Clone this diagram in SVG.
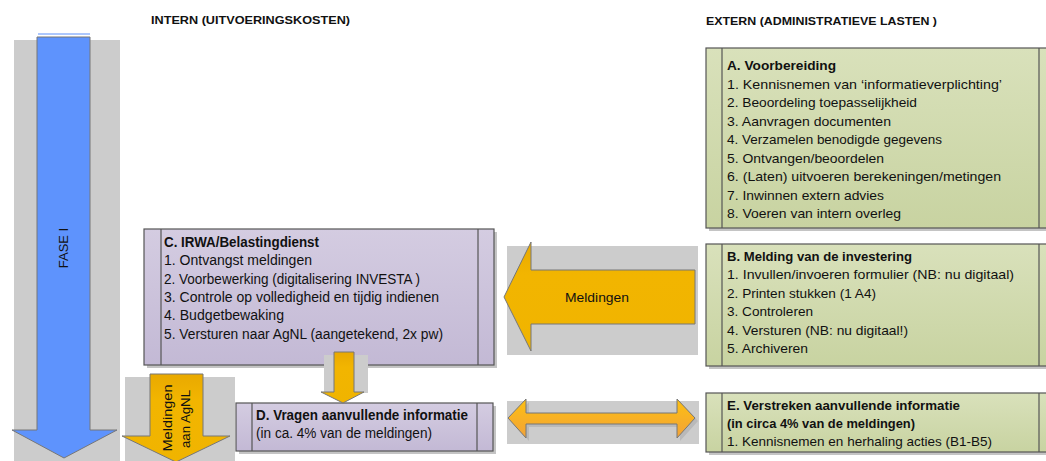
<svg xmlns="http://www.w3.org/2000/svg" width="1046" height="461" viewBox="0 0 1046 461">
<defs>
<linearGradient id="gGreen" x1="0" y1="0" x2="0" y2="1"><stop offset="0" stop-color="#d9e1bb"/><stop offset="1" stop-color="#c8d3a1"/></linearGradient>
<linearGradient id="gLav" x1="0" y1="0" x2="0" y2="1"><stop offset="0" stop-color="#d4cce1"/><stop offset="1" stop-color="#c3b9d5"/></linearGradient>
<linearGradient id="gOr" x1="0" y1="0" x2="0" y2="1"><stop offset="0" stop-color="#e9a900"/><stop offset="0.3" stop-color="#f2b500"/><stop offset="1" stop-color="#f0b400"/></linearGradient>
<linearGradient id="gOr2" x1="0" y1="0" x2="0" y2="1"><stop offset="0" stop-color="#fdc010"/><stop offset="1" stop-color="#f2a23a"/></linearGradient>
</defs>
<style>
.bg{fill:#cccccc}
.box{stroke:#555;stroke-width:1.2}
.sh{fill:#c4c4c4}
.ln{stroke:#555;stroke-width:1.2}
text{font-family:"Liberation Sans",Arial,sans-serif;fill:#111}
.t{font-size:13px}
.b{font-size:13px;font-weight:bold}
.t14{font-size:14px}
.b14{font-size:14px;font-weight:bold}
.h{font-size:11.5px;font-weight:bold}
.arr{stroke:#777;stroke-width:1}
</style>
<g id="headers">
<text class="h" x="151" y="24" textLength="199" lengthAdjust="spacingAndGlyphs">INTERN (UITVOERINGSKOSTEN)</text>
<text class="h" x="706" y="25" textLength="231" lengthAdjust="spacingAndGlyphs">EXTERN (ADMINISTRATIEVE LASTEN )</text>
</g>
<g id="fase">
<rect class="bg" x="14" y="40" width="106" height="421"/>
<line x1="38" y1="34" x2="90" y2="34" stroke="#5b8ffa" stroke-width="1"/>
<polygon class="arr" points="37,37 90,37 90,430 117,430 64,458 12,430 37,430" fill="#5e93fd"/>
<text transform="translate(68,248) rotate(-90)" text-anchor="middle" font-size="13">FASE I</text>
</g>
<g id="boxA">
<rect class="sh" x="709" y="51" width="340" height="180"/>
<rect class="box" x="706" y="48" width="342" height="180" fill="url(#gGreen)"/>
<line class="ln" x1="722" y1="48" x2="722" y2="228"/>
<line class="ln" x1="1039" y1="48" x2="1039" y2="228"/>
<text class="b" x="727" y="70" textLength="109" lengthAdjust="spacingAndGlyphs">A. Voorbereiding</text>
<text class="t" x="727" y="89" textLength="275" lengthAdjust="spacingAndGlyphs">1. Kennisnemen van ‘informatieverplichting’</text>
<text class="t" x="727" y="107" textLength="190" lengthAdjust="spacingAndGlyphs">2. Beoordeling toepasselijkheid</text>
<text class="t" x="727" y="126" textLength="164" lengthAdjust="spacingAndGlyphs">3. Aanvragen documenten</text>
<text class="t" x="727" y="144" textLength="215" lengthAdjust="spacingAndGlyphs">4. Verzamelen benodigde gegevens</text>
<text class="t" x="727" y="163" textLength="157" lengthAdjust="spacingAndGlyphs">5. Ontvangen/beoordelen</text>
<text class="t" x="727" y="181" textLength="274" lengthAdjust="spacingAndGlyphs">6. (Laten) uitvoeren berekeningen/metingen</text>
<text class="t" x="727" y="200" textLength="157" lengthAdjust="spacingAndGlyphs">7. Inwinnen extern advies</text>
<text class="t" x="727" y="218" textLength="174" lengthAdjust="spacingAndGlyphs">8. Voeren van intern overleg</text>
</g>
<g id="boxB">
<rect class="sh" x="709" y="247" width="340" height="122"/>
<rect class="box" x="706" y="244" width="342" height="122" fill="url(#gGreen)"/>
<line class="ln" x1="722" y1="244" x2="722" y2="366"/>
<line class="ln" x1="1039" y1="244" x2="1039" y2="366"/>
<text class="b" x="727" y="261" textLength="185" lengthAdjust="spacingAndGlyphs">B. Melding van de investering</text>
<text class="t" x="727" y="279" textLength="287" lengthAdjust="spacingAndGlyphs">1. Invullen/invoeren formulier (NB: nu digitaal)</text>
<text class="t" x="727" y="298" textLength="149" lengthAdjust="spacingAndGlyphs">2. Printen stukken (1 A4)</text>
<text class="t" x="727" y="316" textLength="86" lengthAdjust="spacingAndGlyphs">3. Controleren</text>
<text class="t" x="727" y="335" textLength="181" lengthAdjust="spacingAndGlyphs">4. Versturen (NB: nu digitaal!)</text>
<text class="t" x="727" y="353" textLength="81" lengthAdjust="spacingAndGlyphs">5. Archiveren</text>
</g>
<g id="boxE">
<rect class="sh" x="709" y="396" width="340" height="59"/>
<rect class="box" x="706" y="393" width="342" height="59" fill="url(#gGreen)"/>
<line class="ln" x1="722" y1="393" x2="722" y2="452"/>
<line class="ln" x1="1039" y1="393" x2="1039" y2="452"/>
<text class="b" x="727" y="410" textLength="233" lengthAdjust="spacingAndGlyphs">E. Verstreken aanvullende informatie</text>
<text class="b" x="727" y="428" textLength="188" lengthAdjust="spacingAndGlyphs">(in circa 4% van de meldingen)</text>
<text class="t" x="727" y="446" textLength="265" lengthAdjust="spacingAndGlyphs">1. Kennisnemen en herhaling acties (B1-B5)</text>
</g>
<g id="boxC">
<rect class="sh" x="147" y="232" width="350" height="136"/>
<rect class="box" x="144" y="229" width="350" height="136" fill="url(#gLav)"/>
<line class="ln" x1="161" y1="229" x2="161" y2="365"/>
<line class="ln" x1="478" y1="229" x2="478" y2="365"/>
<text class="b14" x="164" y="247" textLength="155" lengthAdjust="spacingAndGlyphs">C. IRWA/Belastingdienst</text>
<text class="t14" x="164" y="265" textLength="148" lengthAdjust="spacingAndGlyphs">1. Ontvangst meldingen</text>
<text class="t14" x="164" y="284" textLength="256" lengthAdjust="spacingAndGlyphs">2. Voorbewerking (digitalisering INVESTA )</text>
<text class="t14" x="164" y="302" textLength="275" lengthAdjust="spacingAndGlyphs">3. Controle op volledigheid en tijdig indienen</text>
<text class="t14" x="164" y="320" textLength="120" lengthAdjust="spacingAndGlyphs">4. Budgetbewaking</text>
<text class="t14" x="164" y="339" textLength="279" lengthAdjust="spacingAndGlyphs">5. Versturen naar AgNL (aangetekend, 2x pw)</text>
</g>
<g id="boxD">
<rect class="sh" x="239" y="406" width="257" height="48"/>
<rect class="box" x="236" y="403" width="257" height="48" fill="url(#gLav)"/>
<line class="ln" x1="252" y1="403" x2="252" y2="451"/>
<line class="ln" x1="477" y1="403" x2="477" y2="451"/>
<text class="b14" x="256" y="420" textLength="212" lengthAdjust="spacingAndGlyphs">D. Vragen aanvullende informatie</text>
<text class="t14" x="256" y="438" textLength="176" lengthAdjust="spacingAndGlyphs">(in ca. 4% van de meldingen)</text>
</g>
<g id="connectors">
<g id="arrowCD">
<rect class="bg" x="324" y="355" width="44" height="38"/>
<polygon class="arr" points="334,352 354,352 354,392 364,392 343,403 321,392 334,392" fill="url(#gOr)"/>
</g>
<g id="arrowAgNL">
<rect class="bg" x="125" y="377" width="110" height="84"/>
<polygon class="arr" points="150,374 203,374 203,436 230,436 176,462 122,436 150,436" fill="url(#gOr)"/>
<text transform="translate(172,418) rotate(-90)" text-anchor="middle" font-size="13" textLength="67" lengthAdjust="spacingAndGlyphs">Meldingen</text>
<text transform="translate(190,419) rotate(-90)" text-anchor="middle" font-size="13" textLength="58" lengthAdjust="spacingAndGlyphs">aan AgNL</text>
</g>
<g id="arrowMeldingen">
<rect class="bg" x="507" y="246" width="191" height="109"/>
<polygon class="arr" points="695,270 531,270 531,242 504,297 531,351 531,324 695,324" fill="url(#gOr)"/>
<text x="597" y="302" text-anchor="middle" font-size="13" textLength="64" lengthAdjust="spacingAndGlyphs">Meldingen</text>
</g>
<g id="arrowDE">
<rect class="bg" x="507" y="401" width="192" height="43"/>
<polygon points="511,421 529,402 529,416 680,416 680,402 698,421 680,441 680,427 529,427 529,441" fill="#b9b9b9"/>
<polygon class="arr" points="508,418 526,399 526,413 677,413 677,399 695,418 677,438 677,424 526,424 526,438" fill="url(#gOr2)"/>
</g>
</g>
</svg>
